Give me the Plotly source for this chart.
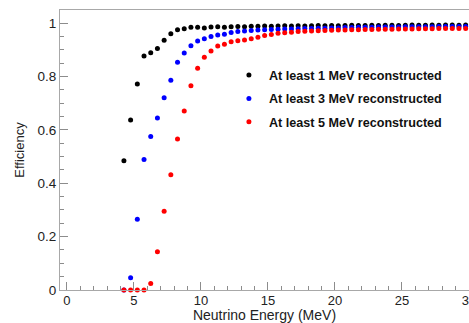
import plotly.graph_objects as go

energy = [4.25, 4.75, 5.25, 5.75, 6.25, 6.75, 7.25, 7.75, 8.25, 8.75,
          9.25, 9.75, 10.25, 10.75, 11.25, 11.75, 12.25, 12.75, 13.25, 13.75,
          14.25, 14.75, 15.25, 15.75, 16.25, 16.75, 17.25, 17.75, 18.25, 18.75,
          19.25, 19.75, 20.25, 20.75, 21.25, 21.75, 22.25, 22.75, 23.25, 23.75,
          24.25, 24.75, 25.25, 25.75, 26.25, 26.75, 27.25, 27.75, 28.25, 28.75,
          29.25, 29.75]

eff_1mev = [0.484, 0.637, 0.772, 0.877, 0.889, 0.905, 0.936, 0.960, 0.975, 0.979,
            0.984, 0.984, 0.982, 0.985, 0.986, 0.984, 0.986, 0.987, 0.986, 0.988,
            0.988, 0.989, 0.988, 0.989, 0.990, 0.989, 0.990, 0.989, 0.990, 0.991,
            0.990, 0.991, 0.990, 0.991, 0.992, 0.991, 0.991, 0.992, 0.991, 0.992,
            0.992, 0.991, 0.992, 0.993, 0.992, 0.992, 0.993, 0.992, 0.993, 0.993,
            0.992, 0.993]

eff_3mev = [0.0, 0.046, 0.265, 0.489, 0.575, 0.644, 0.720, 0.786, 0.853, 0.888,
            0.915, 0.933, 0.941, 0.950, 0.955, 0.958, 0.965, 0.968, 0.970, 0.972,
            0.974, 0.975, 0.976, 0.977, 0.978, 0.978, 0.979, 0.980, 0.980, 0.981,
            0.981, 0.982, 0.982, 0.983, 0.983, 0.984, 0.984, 0.984, 0.985, 0.985,
            0.985, 0.985, 0.986, 0.986, 0.986, 0.986, 0.986, 0.987, 0.987, 0.987,
            0.987, 0.987]

eff_5mev = [0.0, 0.0, 0.0, 0.0, 0.024, 0.143, 0.295, 0.432, 0.566, 0.671,
            0.765, 0.831, 0.872, 0.895, 0.914, 0.921, 0.930, 0.934, 0.937, 0.941,
            0.947, 0.953, 0.957, 0.962, 0.964, 0.966, 0.968, 0.969, 0.970, 0.971,
            0.972, 0.973, 0.974, 0.974, 0.975, 0.975, 0.976, 0.976, 0.977, 0.977,
            0.977, 0.978, 0.978, 0.978, 0.979, 0.979, 0.979, 0.980, 0.980, 0.980,
            0.980, 0.980]

series_names = ["At least 1 MeV reconstructed",
                "At least 3 MeV reconstructed",
                "At least 5 MeV reconstructed"]
series_colors = ["#000000", "#0000ff", "#ff0000"]

x_tickvals = [0, 5, 10, 15, 20, 25, 30]
x_ticktext = ["0", "5", "10", "15", "20", "25", "30"]
y_tickvals = [0, 0.2, 0.4, 0.6, 0.8, 1.0]
y_ticktext = ["0", "0.2", "0.4", "0.6", "0.8", "1"]

FONT = "Liberation Sans, Arial, Helvetica, sans-serif"

fig = go.Figure()
for i, (vals, name, col) in enumerate(zip([eff_1mev, eff_3mev, eff_5mev],
                                          series_names, series_colors)):
    fig.add_trace(go.Scatter(
        x=energy, y=vals, mode="markers", name=name,
        legendgroup=f"g{i}",
        marker=dict(color=col, size=5, line=dict(width=0)),
        cliponaxis=False,
    ))

axis_common = dict(
    showgrid=False, zeroline=False, showline=True,
    linecolor="#a8a8a8", linewidth=1,
    ticks="inside", tickcolor="#8c8c8c", tickwidth=1, ticklen=8,
)

fig.update_layout(
    width=469, height=323,
    margin=dict(l=60, r=0, t=10, b=33, autoexpand=False),
    paper_bgcolor="white", plot_bgcolor="white",
    font=dict(family=FONT, color="#222222"),
    showlegend=True,
    legend=dict(
        x=0.413, y=0.82, xanchor="left", yanchor="top",
        bgcolor="rgba(0,0,0,0)", borderwidth=0,
        font=dict(family=FONT, size=12.6, color="#111111", weight="bold"),
        tracegroupgap=4,
    ),
    xaxis=dict(
        range=[-0.52, 30.0], mirror=True,
        tickvals=x_tickvals, ticktext=x_ticktext,
        ticklabeloverflow="allow", ticklabelstandoff=-2,
        tickfont=dict(family=FONT, size=13, color="#222222"),
        minor=dict(dtick=1, tick0=0, ticks="inside", ticklen=4, tickcolor="#8c8c8c", showgrid=False),
        title=dict(text="Neutrino Energy (MeV)", standoff=5,
                   font=dict(family=FONT, size=14, color="#222222")),
        automargin=False,
        **axis_common,
    ),
    yaxis=dict(
        range=[0, 1.049], mirror=False,
        tickvals=y_tickvals, ticktext=y_ticktext,
        tickfont=dict(family=FONT, size=13.5, color="#222222"),
        minor=dict(dtick=0.05, tick0=0, ticks="inside", ticklen=4, tickcolor="#8c8c8c", showgrid=False),
        title=dict(text="Efficiency", standoff=9,
                   font=dict(family=FONT, size=13, color="#222222")),
        automargin=False,
        **axis_common,
    ),
)

fig.write_html("out.html", config={"displayModeBar": False},
               post_script="document.body.style.margin='0';document.body.style.overflow='hidden';")
